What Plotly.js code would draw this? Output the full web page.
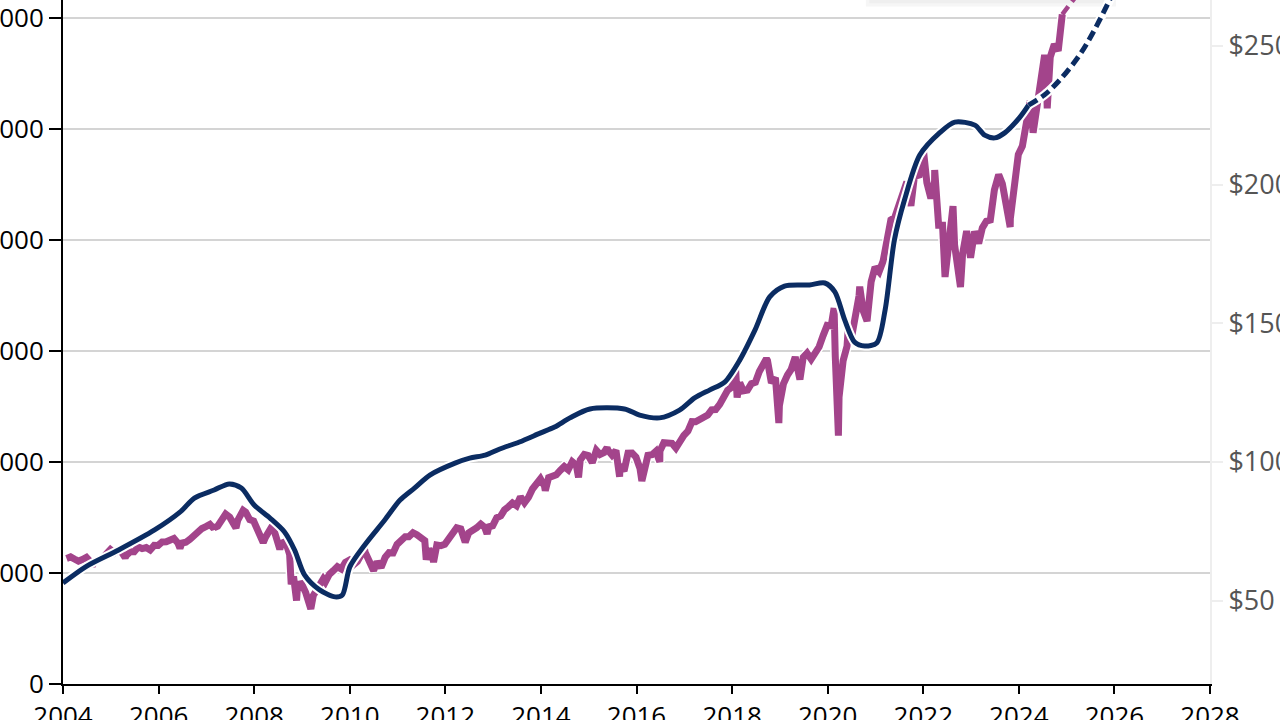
<!DOCTYPE html>
<html>
<head>
<meta charset="utf-8">
<script src="https://cdn.plot.ly/plotly-3.0.1.min.js"></script>
<style>
html,body{margin:0;padding:0;width:1280px;height:720px;overflow:hidden;background:#fff;}
#chart{position:absolute;left:-37px;top:-133px;width:1347px;height:897px;}
</style>
</head>
<body>
<div id="chart"></div>
<script>
// S&P 500 monthly closes (left axis), Jan 2004 - Nov 2024
const spStartYear = 2004;
const spMonthly = [
1131,1145,1126,1107,1121,1141,1102,1104,1115,1130,1174,1212,
1181,1204,1181,1157,1192,1191,1234,1220,1229,1207,1249,1248,
1280,1281,1295,1311,1270,1270,1277,1304,1336,1378,1401,1418,
1438,1407,1421,1482,1531,1503,1455,1474,1527,1549,1481,1468,
1379,1331,1323,1386,1400,1280,1267,1283,1166,969,896,903,
826,735,798,873,919,919,987,1021,1057,1036,1096,1115,
1074,1104,1169,1187,1089,1031,1102,1049,1141,1183,1181,1258,
1286,1327,1326,1364,1345,1321,1292,1219,1131,1253,1247,1258,
1312,1366,1408,1398,1310,1362,1379,1407,1441,1412,1416,1426,
1498,1515,1569,1598,1631,1606,1686,1633,1682,1757,1806,1848,
1783,1859,1872,1884,1924,1960,1931,2003,1972,2018,2068,2059,
1995,2105,2068,2086,2107,2063,2104,1972,1920,2079,2080,2044,
1940,1932,2060,2065,2097,2099,2174,2171,2168,2126,2199,2239,
2279,2364,2363,2384,2412,2423,2470,2472,2519,2575,2648,2674,
2824,2714,2641,2648,2705,2718,2816,2902,2914,2712,2760,2507,
2704,2784,2834,2946,2752,2942,2980,2926,2977,3038,3141,3231,
3226,2954,2585,2912,3044,3100,3271,3500,3363,3270,3622,3756,
3714,3811,3973,4181,4204,4298,4395,4523,4308,4605,4567,4766,
4516,4374,4530,4132,4132,3785,4130,3955,3586,3872,4080,3840,
4077,3970,4109,4169,4180,4450,4589,4508,4288,4194,4568,4770,
4846,5096,5254,5036,5278,5460,5522,5648,5762,5705,6032
];
// Notable intra-month highs and lows
const spExtremeDates = ['2004-08-12','2005-04-20','2006-06-13','2007-02-27','2007-08-15','2007-10-09','2008-03-10','2008-05-19','2008-07-15','2008-10-10','2008-11-20','2009-03-09','2009-06-12','2010-04-23','2010-07-02','2011-04-29','2011-08-08','2011-10-03','2012-06-01','2012-11-15','2014-02-03','2014-10-15','2015-05-21','2015-08-25','2016-02-11','2016-06-27','2018-01-26','2018-02-08','2018-09-20','2018-12-24','2019-06-03','2020-02-19','2020-03-23','2020-06-08','2020-09-02','2020-10-30','2022-01-03','2022-03-29','2022-06-16','2022-08-16','2022-10-12','2023-07-31','2023-10-27','2024-04-19','2024-07-16','2024-08-05'];
const spExtremeValues = [1063,1138,1223,1400,1406,1565,1273,1426,1214,899,752,677,946,1217,1023,1363,1119,1099,1278,1353,1741,1862,2130,1868,1829,2001,2873,2581,2930,2351,2744,3386,2237,3232,3580,3270,4797,4631,3667,4305,3577,4589,4117,4967,5667,5186];
// S&P 500 projection (dashed)
const spProjDates = ['2024-11-28','2025-12-31'];
const spProjValues = [6032,6650];

// Earnings (right axis, $)
const epsDates = ['2004-01-01','2004-07-01','2005-03-01','2005-12-01','2006-06-15','2006-10-01','2007-03-01','2007-06-25','2007-09-25','2008-01-01','2008-05-01','2008-08-20','2008-11-05','2009-01-20','2009-05-15','2009-09-10','2009-11-05','2010-01-01','2010-04-25','2010-09-25','2011-01-20','2011-05-10','2011-09-05','2012-03-15','2012-07-05','2012-11-01','2013-02-20','2013-07-20','2013-12-25','2014-04-15','2014-08-10','2015-01-10','2015-10-01','2016-01-25','2016-06-25','2016-11-25','2017-03-20','2017-07-15','2017-11-05','2018-03-01','2018-06-25','2018-10-15','2019-02-05','2019-08-15','2019-12-10','2020-02-25','2020-05-10','2020-07-25','2020-10-10','2021-01-10','2021-03-15','2021-05-25','2021-08-10','2021-12-05','2022-05-05','2022-08-30','2023-01-30','2023-04-15','2023-07-01','2023-09-15','2024-01-05','2024-03-15'];
const epsValues = [56.4,62.5,68.3,75.5,82,87,89.9,92.1,90.6,84.5,79.8,74.8,68.3,59.3,53.9,51.4,52.1,62.2,70.1,79.1,86.3,90.6,95.3,99.6,101.4,102.5,104.7,107.2,110.4,112.6,115.9,119.1,119.1,116.9,115.9,118.7,123.1,126,128.8,136.8,147.6,159.5,163.4,163.8,164.5,161.3,151.2,143.2,141.8,142.9,154.8,180,194.4,210.6,218.6,222.5,221.4,217.8,216.8,218.6,224,228.6];
const epsProjDates = ['2024-03-15','2024-07-15','2024-11-10','2025-04-10','2025-08-01','2025-11-25','2026-03-01'];
const epsProjValues = [228.6,232.3,237.7,246.7,255.7,266.5,276];

const leftTicks = [0,1000,2000,3000,4000,5000,6000,7000];
const rightTicks = [50,100,150,200,250,300];
const rightTickText = ['$50','$100','$150','$200','$250','$300'];

// build S&P series
const pts = [];
spMonthly.forEach((v,i)=>{
  const y = spStartYear + Math.floor(i/12);
  const m = (i%12)+1;
  pts.push([y+'-'+String(m).padStart(2,'0')+'-28', v]);
});
spExtremeDates.forEach((d,i)=>pts.push([d, spExtremeValues[i]]));
pts.sort((a,b)=>a[0]<b[0]?-1:a[0]>b[0]?1:0);
const spX = pts.map(p=>p[0]), spY = pts.map(p=>p[1]);

const PURPLE = '#a3448b', NAVY = '#0b2c62';
const traces = [
 {x:spX,y:spY,mode:'lines',line:{color:'#ffffff',width:10},hoverinfo:'skip',showlegend:false},
 {x:spProjDates,y:spProjValues,mode:'lines',line:{color:PURPLE,width:4.5,dash:'10px,6px'},showlegend:false},
 {x:spX,y:spY,mode:'lines',name:'S&P 500',line:{color:PURPLE,width:7}},
 {x:epsDates,y:epsValues,yaxis:'y2',mode:'lines',line:{color:'#ffffff',width:9,shape:'spline',smoothing:0.8},hoverinfo:'skip',showlegend:false},
 {x:epsDates,y:epsValues,yaxis:'y2',mode:'lines',name:'Earnings',line:{color:NAVY,width:5,shape:'spline',smoothing:0.8}},
 {x:epsProjDates,y:epsProjValues,yaxis:'y2',mode:'lines',line:{color:'#ffffff',width:9,shape:'spline'},hoverinfo:'skip',showlegend:false},
 {x:epsProjDates,y:epsProjValues,yaxis:'y2',mode:'lines',line:{color:NAVY,width:5,dash:'10px,5px',shape:'spline'},showlegend:false}
];

const layout = {
 width:1347,height:897,
 margin:{l:100,r:100,t:40,b:80},
 paper_bgcolor:'rgba(0,0,0,0)',plot_bgcolor:'#ffffff',
 font:{family:'"Open Sans", "Noto Sans", sans-serif',size:26,color:'#000'},
 showlegend:true,
 legend:{orientation:'h',x:0.704,xanchor:'left',y:0.882,yanchor:'bottom',bgcolor:'#ffffff',borderwidth:0},
 xaxis:{type:'date',range:['2004-01-01','2028-01-01'],dtick:'M24',tick0:'2004-01-01',tickformat:'%Y',
   showgrid:false,showline:true,linecolor:'#000',linewidth:2,ticks:'outside',ticklen:8,tickwidth:2,tickcolor:'#000',
   tickfont:{size:26,color:'#000'},zeroline:false},
 yaxis:{range:[0,7000],tickvals:leftTicks,showgrid:true,gridcolor:'#d4d4d4',gridwidth:2,
   showline:true,linecolor:'#000',linewidth:2,ticks:'outside',ticklen:12,tickwidth:2,tickcolor:'#000',
   tickfont:{size:26,color:'#000'},zeroline:false},
 yaxis2:{range:[20,300],overlaying:'y',side:'right',tickvals:rightTicks,ticktext:rightTickText,showgrid:false,
   showline:true,linecolor:'#eeeeee',linewidth:2,ticks:'outside',ticklen:11,tickwidth:2,tickcolor:'#eeeeee',
   tickfont:{size:27,color:'#555555'},zeroline:false},
 shapes:[
  {type:'rect',xref:'paper',yref:'paper',x0:0.700,x1:0.918,y0:0.872,y1:0.882,fillcolor:'#f6f6f6',line:{width:0},layer:'below'},
  {type:'rect',xref:'paper',yref:'paper',x0:0.703,x1:0.915,y0:0.876,y1:0.882,fillcolor:'#efefef',line:{width:0},layer:'below'}
 ]
};
Plotly.newPlot('chart',traces,layout,{displayModeBar:false,staticPlot:true});
</script>
</body>
</html>
